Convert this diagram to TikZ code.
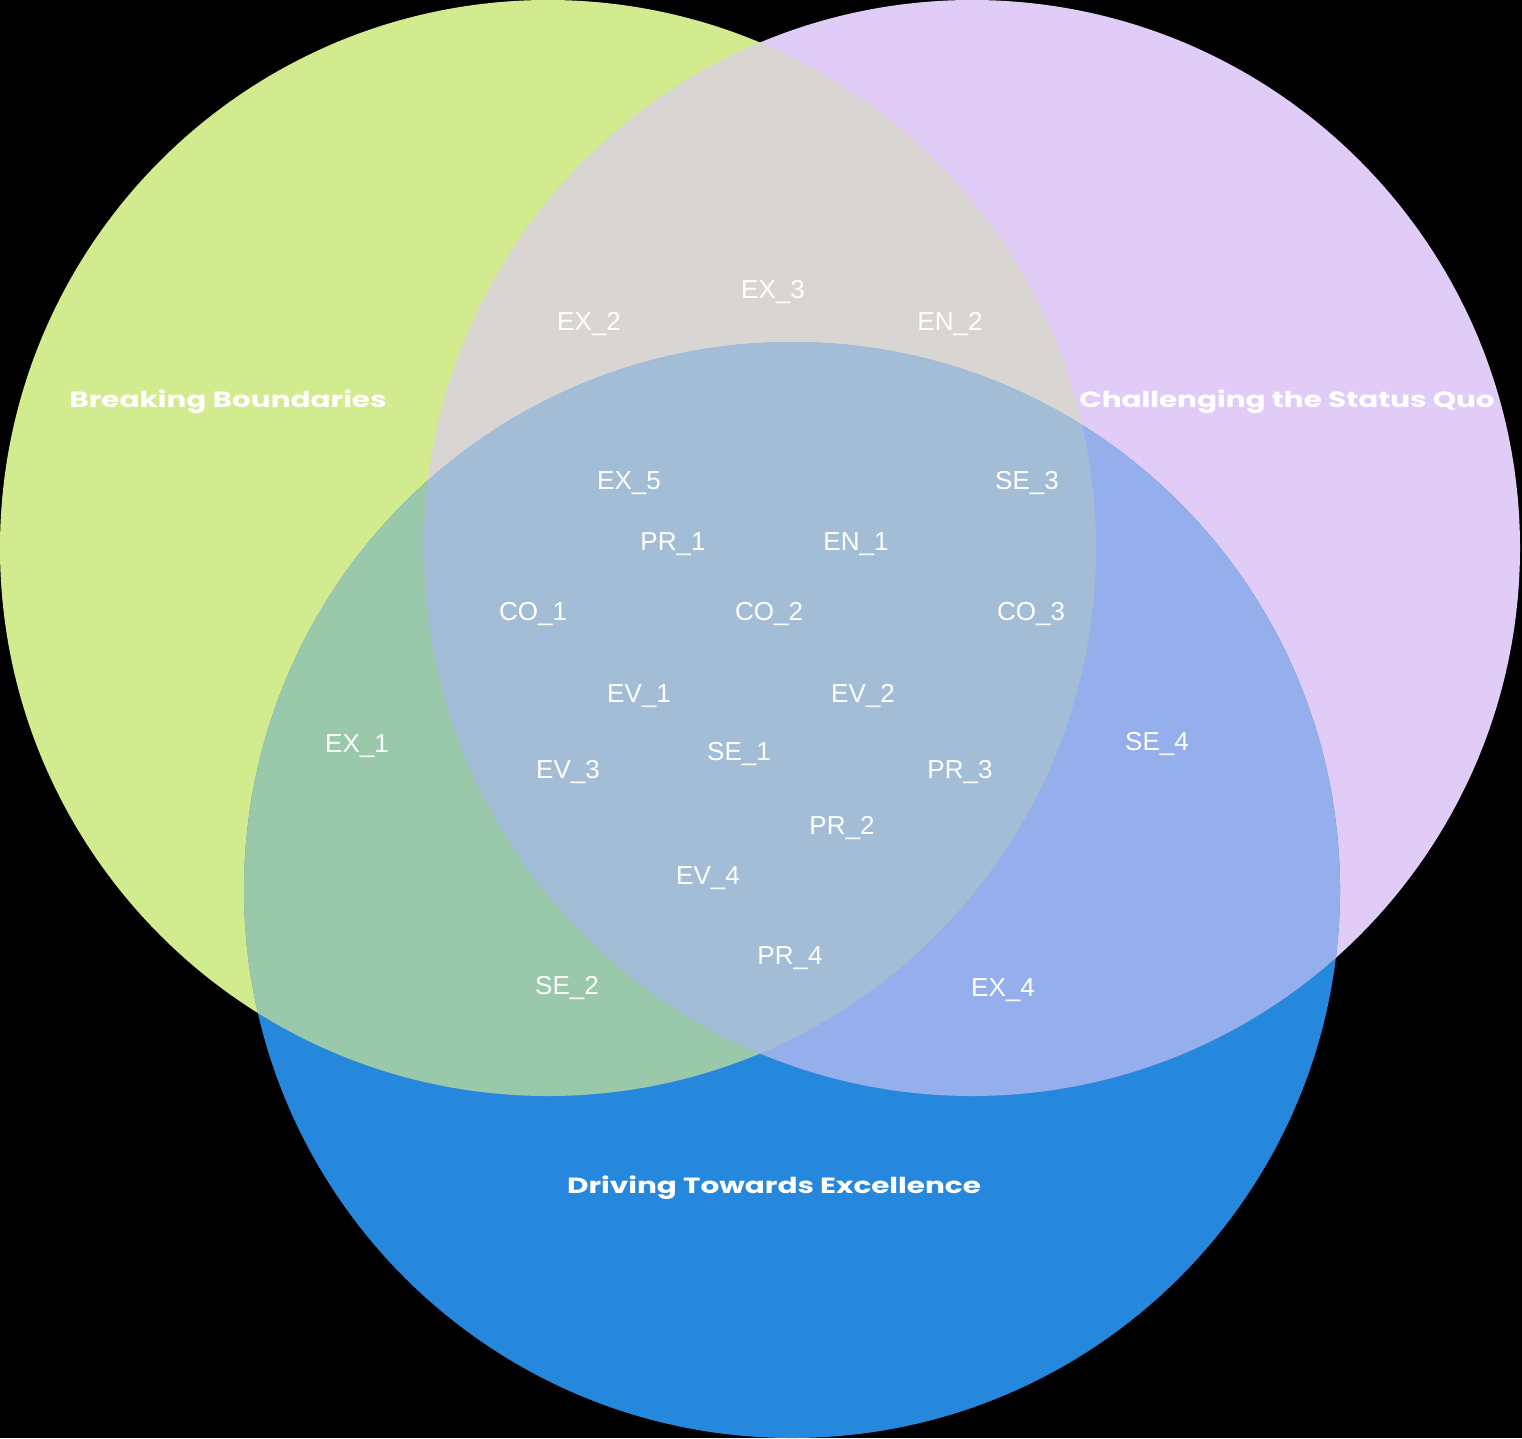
\documentclass[tikz,border=0pt]{standalone}
\usepackage{fontspec}
\setmainfont{Liberation Sans}
\newfontfamily\titlefont[FakeStretch=1.34]{Poppins}
\definecolor{cgreen}{HTML}{D2EB8E}
\definecolor{cpurple}{HTML}{E1CCF8}
\definecolor{cblue}{HTML}{2688DD}
\definecolor{cgp}{HTML}{D9D5D3}
\definecolor{cgb}{HTML}{99C8AB}
\definecolor{cpb}{HTML}{94AFEB}
\definecolor{cgpb}{HTML}{A3BDD6}
\begin{document}
\begin{tikzpicture}[x=1pt,y=-1pt,
  lbl/.style={text=white,font=\fontsize{26}{30}\selectfont,anchor=base,inner sep=0pt},
  ttl/.style={text=white,font=\titlefont\bfseries\fontsize{22}{26}\selectfont,anchor=base,inner sep=0pt}]
\useasboundingbox (0,0) rectangle (1522,1438);
\fill[black] (0,0) rectangle (1522,1438);
\coordinate (cg) at (548,548);
\coordinate (cp) at (972,548);
\coordinate (cb) at (792,890);
\def\R{548pt}
\fill[cgreen] (cg) circle[radius=\R];
\fill[cpurple] (cp) circle[radius=\R];
\fill[cblue] (cb) circle[radius=\R];
\begin{scope}
  \clip (cg) circle[radius=\R];
  \fill[cgp] (cp) circle[radius=\R];
  \fill[cgb] (cb) circle[radius=\R];
\end{scope}
\begin{scope}
  \clip (cp) circle[radius=\R];
  \fill[cpb] (cb) circle[radius=\R];
  \clip (cg) circle[radius=\R];
  \fill[cgpb] (cb) circle[radius=\R];
\end{scope}
% titles
\node[ttl] (tg) at (228,407) {Breaking Boundaries};
\node[ttl] (tp) at (1287,407) {Challenging the Status Quo};
\node[ttl] (tb) at (774,1193) {Driving Towards Excellence};
% labels
\node[lbl] (ex3) at (773,298) {EX\_3};
\node[lbl] (ex2) at (589,330) {EX\_2};
\node[lbl] (en2) at (950,330) {EN\_2};
\node[lbl] (ex5) at (629,489) {EX\_5};
\node[lbl] (se3) at (1027,489) {SE\_3};
\node[lbl] (pr1) at (673,550) {PR\_1};
\node[lbl] (en1) at (856,550) {EN\_1};
\node[lbl] (co1) at (533,620) {CO\_1};
\node[lbl] (co2) at (769,620) {CO\_2};
\node[lbl] (co3) at (1031,620) {CO\_3};
\node[lbl] (ev1) at (639,702) {EV\_1};
\node[lbl] (ev2) at (863,702) {EV\_2};
\node[lbl] (ex1) at (357,752) {EX\_1};
\node[lbl] (se4) at (1157,750) {SE\_4};
\node[lbl] (se1) at (739,760) {SE\_1};
\node[lbl] (ev3) at (568,778) {EV\_3};
\node[lbl] (pr3) at (960,778) {PR\_3};
\node[lbl] (pr2) at (842,834) {PR\_2};
\node[lbl] (ev4) at (708,884) {EV\_4};
\node[lbl] (pr4) at (790,964) {PR\_4};
\node[lbl] (se2) at (567,994) {SE\_2};
\node[lbl] (ex4) at (1003,996) {EX\_4};
\end{tikzpicture}
\end{document}
